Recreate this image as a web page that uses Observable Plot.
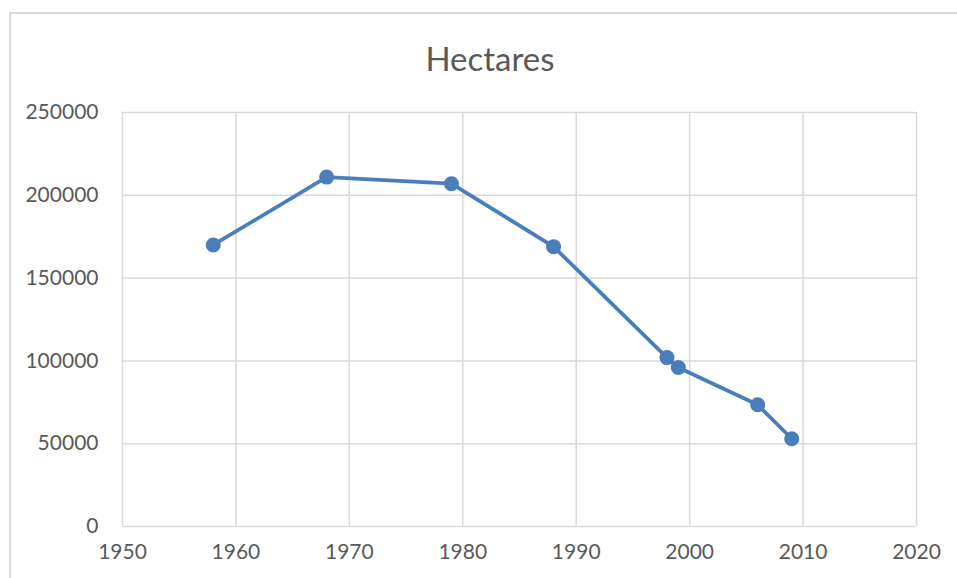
<!DOCTYPE html>
<html>
<head>
<meta charset="utf-8">
<script src="https://cdn.jsdelivr.net/npm/d3@7"></script>
<script src="https://cdn.jsdelivr.net/npm/@observablehq/plot@0.6"></script>
<style>
  html, body { margin: 0; padding: 0; background: #fff; overflow: hidden; width: 957px; height: 578px; }
  #wrap { position: relative; width: 957px; height: 578px; }
  #border { position: absolute; left: 9px; top: 12px; width: 1200px; height: 900px; border: 2px solid #d9d9d9; box-sizing: border-box; }
  #title { position: absolute; left: 0; top: 0; width: 980px; height: 80px; line-height: 116px; text-align: center;
           font-family: Lato, "Open Sans", sans-serif; font-size: 33px; color: #595959; }
  #chart { position: absolute; left: 0; top: 80px; }
</style>
</head>
<body>
<div id="wrap">
  <div id="border"></div>
  <div id="title">Hectares</div>
  <div id="chart"></div>
</div>
<script>
const years = [1958, 1968, 1979, 1988, 1998, 1999, 2006, 2009];
const hectares = [170000, 211000, 207000, 169000, 102000, 96000, 73500, 53000];
const xTicks = [1950, 1960, 1970, 1980, 1990, 2000, 2010, 2020];
const yTicks = [0, 50000, 100000, 150000, 200000, 250000];

const data = years.map((y, i) => ({year: y, value: hectares[i]}));
const grid = "#d9d9d9";
const blue = "#4a7ebb";

const chart = Plot.plot({
  width: 957,
  height: 498,
  marginTop: 32,
  marginLeft: 122,
  marginRight: 41,
  marginBottom: 52,
  style: {fontFamily: "Lato, 'Open Sans', sans-serif", fontSize: "21px", color: "#595959", background: "transparent"},
  x: {domain: [1950, 2020], label: null},
  y: {domain: [0, 250000], label: null},
  marks: [
    Plot.gridX(xTicks, {stroke: grid, strokeOpacity: 1, strokeWidth: 1.5}),
    Plot.gridY(yTicks, {stroke: grid, strokeOpacity: 1, strokeWidth: 1.5}),
    Plot.axisX(xTicks, {tickSize: 0, tickPadding: 18, tickFormat: d => String(d), fill: "#595959", fontSize: 21}),
    Plot.axisY(yTicks, {tickSize: 0, tickPadding: 24, tickFormat: d => String(d), fill: "#595959", fontSize: 21}),
    Plot.line(data, {x: "year", y: "value", stroke: blue, strokeWidth: 3.75}),
    Plot.dot(data, {x: "year", y: "value", r: 7.5, fill: blue, stroke: "none"})
  ]
});
document.getElementById("chart").appendChild(chart);
</script>
</body>
</html>
